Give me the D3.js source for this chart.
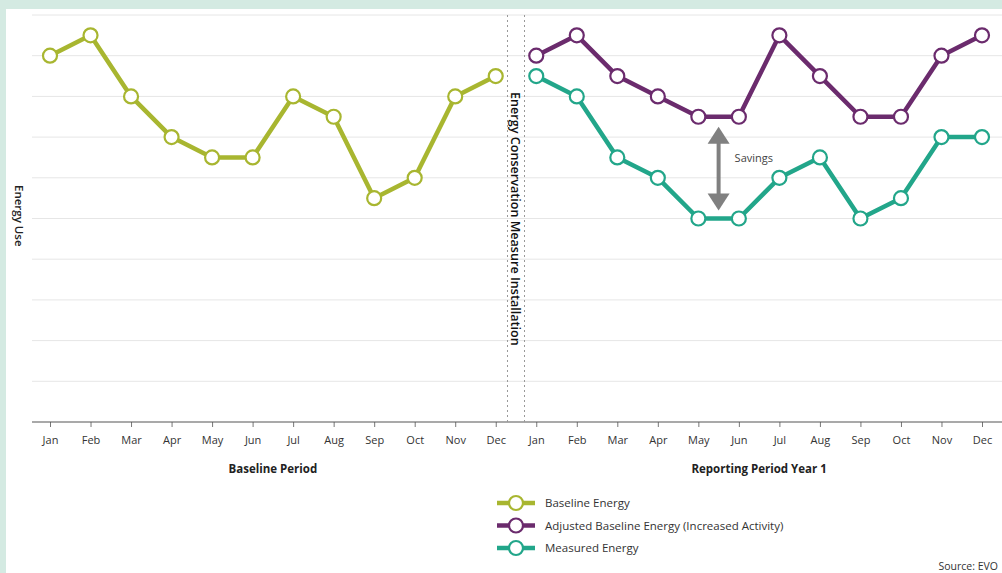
<!DOCTYPE html>
<html>
<head>
<meta charset="utf-8">
<script src="https://cdn.jsdelivr.net/npm/d3@7"></script>
<style>
  body { margin: 0; background: #d4eae2; }
  svg { display: block; font-family: "Open Sans", "Noto Sans", sans-serif; }
</style>
</head>
<body>
<div id="chart"></div>
<script>
var months = ["Jan", "Feb", "Mar", "Apr", "May", "Jun", "Jul", "Aug", "Sep", "Oct", "Nov", "Dec"];

var baselineEnergy = [9, 9.5, 8, 7, 6.5, 6.5, 8, 7.5, 5.5, 6, 8, 8.5];
var adjustedBaseline = [9, 9.5, 8.5, 8, 7.5, 7.5, 9.5, 8.5, 7.5, 7.5, 9, 9.5];
var measuredEnergy = [8.5, 8, 6.5, 6, 5, 5, 6, 6.5, 5, 5.5, 7, 7];

var series = [
  { name: "Baseline Energy", color: "#a8b630", offset: 0, values: baselineEnergy },
  { name: "Adjusted Baseline Energy (Increased Activity)", color: "#6b2b6d", offset: 12, values: adjustedBaseline },
  { name: "Measured Energy", color: "#22a68a", offset: 12, values: measuredEnergy }
];

var w = 1002;
var h = 573;

var svg = d3.select("#chart")
  .append("svg")
  .attr("width", w)
  .attr("height", h);

// white panel
svg.append("rect")
  .attr("x", 6)
  .attr("y", 9)
  .attr("width", w - 6)
  .attr("height", h - 9)
  .attr("fill", "white");

var xScale = d3.scalePoint()
  .domain(d3.range(24))
  .range([50, 982]);

var yScale = d3.scaleLinear()
  .domain([0, 10])
  .range([422, 15]);

// grid
svg.selectAll("line.grid")
  .data(d3.range(1, 11))
  .enter()
  .append("line")
  .attr("class", "grid")
  .attr("x1", 32)
  .attr("x2", w)
  .attr("y1", function(d) { return yScale(d); })
  .attr("y2", function(d) { return yScale(d); })
  .attr("stroke", "#e6e6e6")
  .attr("stroke-width", 1);

// x axis
var xAxis = d3.axisBottom(xScale)
  .tickSize(5)
  .tickFormat(function(d) { return months[d % 12]; });

var axisG = svg.append("g")
  .attr("transform", "translate(0," + yScale(0) + ")")
  .call(xAxis);

axisG.select(".domain").remove();
axisG.append("line")
  .attr("x1", 32)
  .attr("x2", w)
  .attr("stroke", "#555")
  .attr("stroke-width", 1.2);
axisG.selectAll(".tick line").attr("stroke", "#777");
axisG.selectAll(".tick text")
  .attr("dy", "1.3em")
  .attr("fill", "#333")
  .style("font-size", "11px")
  .style("font-family", "'Open Sans', sans-serif");

// installation markers
var divider = (xScale(11) + xScale(12)) / 2;
svg.selectAll("line.install")
  .data([divider - 8.5, divider + 8.5])
  .enter()
  .append("line")
  .attr("class", "install")
  .attr("x1", function(d) { return d; })
  .attr("x2", function(d) { return d; })
  .attr("y1", yScale(10))
  .attr("y2", yScale(0))
  .attr("stroke", "#999")
  .attr("stroke-width", 1)
  .attr("stroke-dasharray", "2,3");

svg.append("text")
  .attr("transform", "translate(" + (divider - 5) + ",92) rotate(90)")
  .attr("fill", "#111")
  .style("font-size", "12.6px")
  .style("font-weight", "600")
  .text("Energy Conservation Measure Installation");

// lines and points
var line = d3.line()
  .x(function(d) { return d.x; })
  .y(function(d) { return d.y; });

series.forEach(function(s) {
  var pts = s.values.map(function(v, i) {
    return { x: xScale(i + s.offset), y: yScale(v) };
  });
  svg.append("path")
    .attr("d", line(pts))
    .attr("fill", "none")
    .attr("stroke", s.color)
    .attr("stroke-width", 4.5)
    .attr("stroke-linejoin", "round");
  svg.selectAll(null)
    .data(pts)
    .enter()
    .append("circle")
    .attr("cx", function(d) { return d.x; })
    .attr("cy", function(d) { return d.y; })
    .attr("r", 7)
    .attr("fill", "white")
    .attr("stroke", s.color)
    .attr("stroke-width", 2.2);
});

// savings arrow
var arrowX = (xScale(16) + xScale(17)) / 2;
var arrowTop = yScale(adjustedBaseline[4]) + 10;
var arrowBot = yScale(measuredEnergy[4]) - 8;
svg.append("line")
  .attr("x1", arrowX)
  .attr("x2", arrowX)
  .attr("y1", arrowTop + 14)
  .attr("y2", arrowBot - 14)
  .attr("stroke", "#808080")
  .attr("stroke-width", 4);
svg.append("path")
  .attr("d", "M" + arrowX + "," + arrowTop + " l-11,17 l22,0 z")
  .attr("fill", "#808080");
svg.append("path")
  .attr("d", "M" + arrowX + "," + arrowBot + " l-11,-17 l22,0 z")
  .attr("fill", "#808080");
svg.append("text")
  .attr("x", arrowX + 16)
  .attr("y", (arrowTop + arrowBot) / 2 - 7)
  .attr("fill", "#444")
  .style("font-size", "11px")
  .text("Savings");

// axis titles
svg.append("text")
  .attr("transform", "translate(15,185) rotate(90)")
  .attr("fill", "#222")
  .style("font-size", "11.5px")
  .style("font-weight", "600")
  .text("Energy Use");

svg.append("text")
  .attr("x", (xScale(0) + xScale(11)) / 2)
  .attr("y", 473)
  .attr("text-anchor", "middle")
  .attr("fill", "#222")
  .style("font-size", "11.5px")
  .style("font-weight", "bold")
  .text("Baseline Period");

svg.append("text")
  .attr("x", (xScale(12) + xScale(23)) / 2)
  .attr("y", 473)
  .attr("text-anchor", "middle")
  .attr("fill", "#222")
  .style("font-size", "11.5px")
  .style("font-weight", "bold")
  .text("Reporting Period Year 1");

// legend
var legend = svg.selectAll("g.legend")
  .data(series)
  .enter()
  .append("g")
  .attr("class", "legend")
  .attr("transform", function(d, i) {
    return "translate(497," + (503 + i * 22.5) + ")";
  });

legend.append("line")
  .attr("x1", 0)
  .attr("x2", 38)
  .attr("stroke", function(d) { return d.color; })
  .attr("stroke-width", 4.5);
legend.append("circle")
  .attr("cx", 19)
  .attr("r", 7)
  .attr("fill", "white")
  .attr("stroke", function(d) { return d.color; })
  .attr("stroke-width", 2.2);
legend.append("text")
  .attr("x", 48)
  .attr("dy", "0.35em")
  .attr("fill", "#333")
  .style("font-size", "11.5px")
  .text(function(d) { return d.name; });

svg.append("text")
  .attr("x", 998)
  .attr("y", 570)
  .attr("text-anchor", "end")
  .attr("fill", "#333")
  .style("font-size", "10.5px")
  .text("Source: EVO");
</script>
</body>
</html>
